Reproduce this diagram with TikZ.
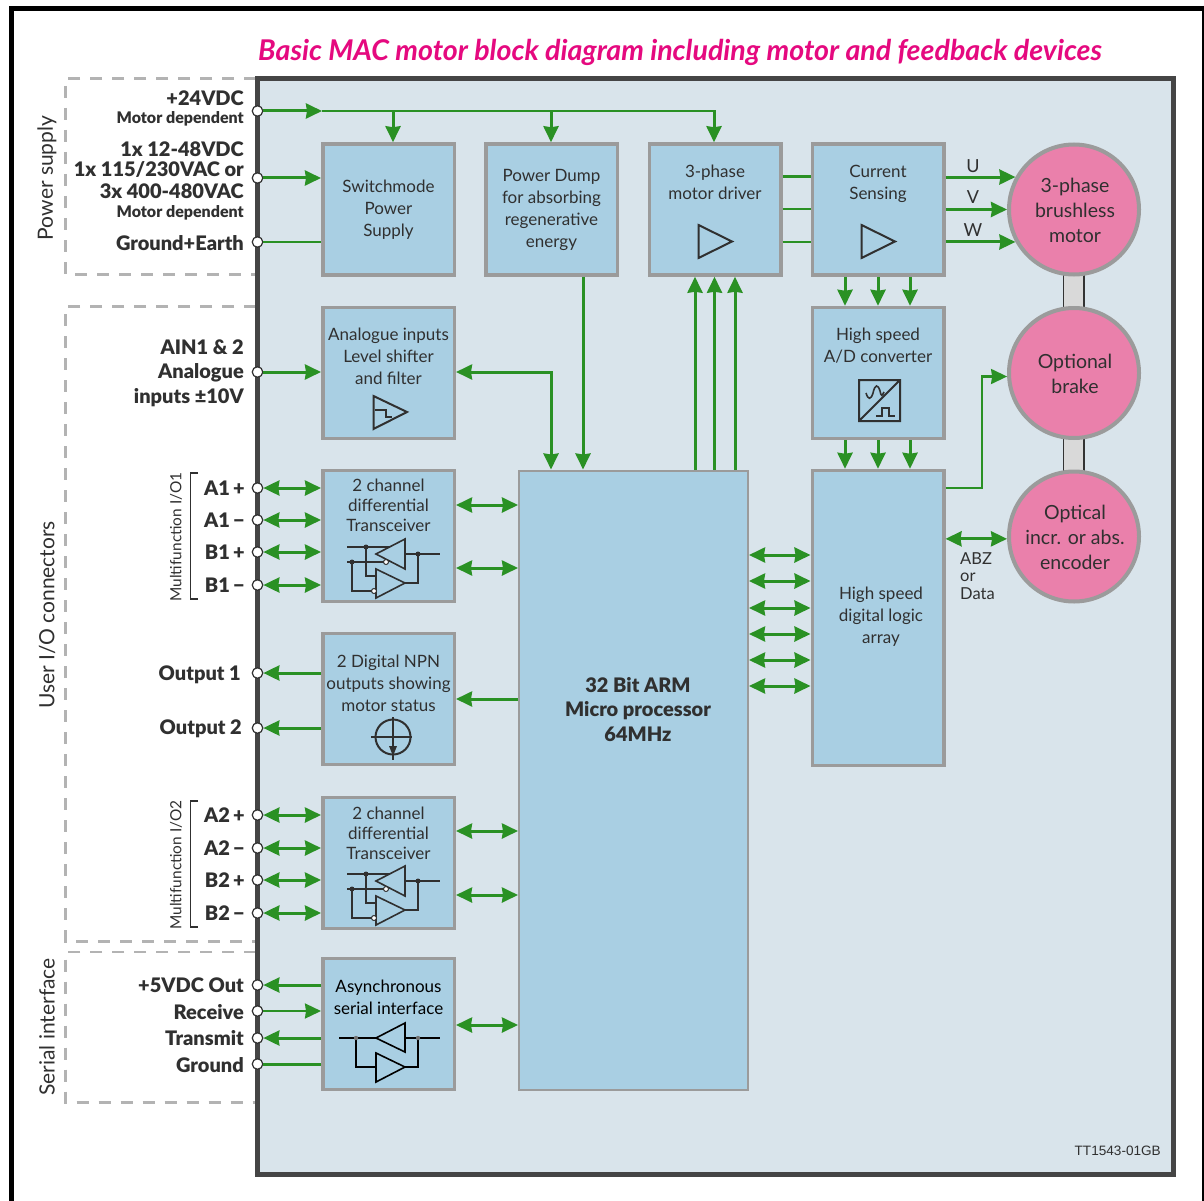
\documentclass[tikz,border=0pt]{standalone}
\usepackage{fontspec}
\setmainfont{Lato}
\newfontfamily\heavy{Lato Black}
\usetikzlibrary{arrows.meta}
\definecolor{gr}{HTML}{2A9124}
\definecolor{panelfill}{HTML}{D9E4EB}
\definecolor{panelline}{HTML}{454545}
\definecolor{boxfill}{HTML}{A9CFE3}
\definecolor{boxline}{HTML}{9B9B9B}
\definecolor{pinkc}{HTML}{EA80AB}
\definecolor{dashc}{HTML}{B3B3B3}
\definecolor{txt}{HTML}{303030}
\definecolor{titlec}{HTML}{E5097F}
\newcommand\roomfor[1]{\\\rule{0pt}{#1pt}}
\newcommand\dn{\rule{0pt}{17pt}\hspace*{2pt}}
\tikzset{
  x=1pt,y=-1pt,
  gbox/.style={draw=boxline,fill=boxfill,line width=3.5pt,inner sep=0pt,
     minimum width=131.5pt,minimum height=131pt,align=center,text=txt,
     font=\fontsize{17}{22}\selectfont},
  tbox/.style={gbox,font=\fontsize{17}{20}\selectfont},
  tallbox/.style={gbox,minimum height=#1},
  cpubox/.style={draw=boxline,fill=boxfill,line width=2pt,inner sep=0pt,align=center,text=txt,
     minimum width=229pt,minimum height=619pt,font=\heavy\fontsize{20}{24.5}\selectfont},
  rotor/.style={circle,draw=boxline,fill=pinkc,line width=4pt,inner sep=0pt,minimum size=130pt,
     align=center,text=txt,font=\fontsize{19.5}{25}\selectfont},
  term/.style={circle,draw=txt,fill=white,line width=1.2pt,inner sep=0pt,minimum size=10.5pt},
  pinl/.style={anchor=east,inner sep=0pt,text=txt,font=\heavy\fontsize{20}{24}\selectfont},
  pins/.style={anchor=east,inner sep=0pt,text=txt,font=\heavy\fontsize{16}{18}\selectfont},
  side/.style={rotate=90,inner sep=0pt,text=txt,font=\fontsize{21}{24}\selectfont},
  sides/.style={rotate=90,inner sep=0pt,text=txt,font=\fontsize{15.4}{18}\selectfont},
  wire/.style={draw=gr,line width=3pt},
  thinw/.style={draw=gr,line width=2.2pt},
  to1/.style={-{Stealth[length=16pt,width=15pt,inset=1pt]}},
  to2/.style={{Stealth[length=16pt,width=15pt,inset=1pt]}-{Stealth[length=16pt,width=15pt,inset=1pt]}},
  grp/.style={draw=dashc,line width=2.8pt,dash pattern=on 12pt off 10pt},
  icon/.style={draw=txt,line width=2pt,line join=miter},
  iconf/.style={draw=txt,line width=1.6pt},
  dotk/.style={circle,fill=txt,inner sep=0pt,minimum size=5pt},
  bub/.style={circle,draw=txt,fill=white,line width=1pt,inner sep=0pt,minimum size=5pt}
}
\newcommand\xcvricon[1]{%
\begin{scope}[shift={(0,#1)}]
  \draw[iconf] (347,547) -- (390,547);
  \draw[iconf] (347,562) -- (386,562);
  \draw[iconf] (405,554) -- (440,554);
  \draw[iconf] (405,539) -- (405,569) -- (376,554) -- cycle;
  \draw[iconf] (376,569) -- (376,598) -- (405,583) -- cycle;
  \draw[iconf] (418,554) -- (418,583) -- (405,583);
  \draw[iconf] (366,547) -- (366,576) -- (376,576);
  \draw[iconf] (352,562) -- (352,591) -- (372,591);
  \node[dotk] at (366,547) {};
  \node[dotk] at (352,562) {};
  \node[dotk] at (418,554) {};
  \node[bub] at (386,562) {};
  \node[bub] at (374,591) {};
\end{scope}}
\begin{document}
\begin{tikzpicture}
\useasboundingbox (0,0) rectangle (1204,1201);
\fill[white] (0,0) rectangle (1204,1201);
% outer frame
\draw[black,line width=5pt] (11.5,1201) -- (11.5,8.5) -- (1203,8.5);
\draw[black,line width=2pt] (1203.2,6) -- (1203.2,1201);
% dashed groups
\draw[grp] (256,78.5) -- (65.5,78.5) -- (65.5,274.5) -- (256,274.5);
\draw[grp] (256,306.5) -- (65.5,306.5) -- (65.5,941.5) -- (256,941.5);
\draw[grp] (256,952) -- (65.5,952) -- (65.5,1102.5) -- (256,1102.5);
% panel
\draw[draw=panelline,fill=panelfill,line width=5pt] (257.5,78.5) rectangle (1173,1174.3);
% title
\node[anchor=west,inner sep=0pt,text=titlec,font=\bfseries\itshape\fontsize{28.6}{32}\selectfont] (title) at (258,52.5) {Basic MAC motor block diagram including motor and feedback devices};
% boxes
\node[gbox] (sw) at (388.5,209.5) {Switchmode\\Power\\Supply};
\node[gbox] (dump) at (551.5,209.5) {Power Dump\\for absorbing\\regenerative\\energy};
\node[gbox] (drv) at (715,209.5) {3-phase\\motor driver\roomfor{54}};
\node[gbox] (cs) at (878,209.5) {Current\\Sensing\roomfor{50}};
\node[gbox] (ain) at (388.5,373) {Analogue inputs\\Level shifter\\and filter\roomfor{32}};
\node[gbox] (adc) at (878,373) {High speed\\A/D converter\roomfor{54}};
\node[tbox] (tr1) at (388.5,536) {2 channel\\differential\\Transceiver\roomfor{60}};
\node[gbox] (npn) at (388.5,699) {2 Digital NPN\\outputs showing\\motor status\roomfor{30}};
\node[tbox] (tr2) at (388.5,863) {2 channel\\differential\\Transceiver\roomfor{58}};
\node[gbox] (ser) at (388.5,1024) {\color{black}Asynchronous\\\color{black}serial interface\roomfor{52}};
\node[tallbox=295pt] (logic) at (878,618) {\hspace*{6pt}High speed\\\hspace*{6pt}digital logic\\\hspace*{6pt}array\rule[-5pt]{0pt}{5pt}};
\node[cpubox] (cpu) at (633.5,780) {\hspace*{9pt}32 Bit ARM\\\hspace*{9pt}Micro processor\\\hspace*{9pt}64MHz\roomfor{140}};
% shafts
\fill[fill=black!15] (1063.5,250) rectangle (1084,500);
\draw[black!80,line width=1.6pt] (1063.5,250) -- (1063.5,500) (1084,250) -- (1084,500);
% rotors
\node[rotor] (mot) at (1074,209.5) {\dn 3-phase\\\hspace*{2pt}brushless\\\hspace*{2pt}motor};
\node[rotor] (brk) at (1074,373) {\dn Optional\\\hspace*{2pt}brake};
\node[rotor] (enc) at (1074,536.5) {\dn Optical\\\hspace*{2pt}incr. or abs.\\\hspace*{2pt}encoder};
% terminals
\foreach \n/\yy in {a/111,b/178,c/242,d/372,e/488,f/520,g/552,h/585,i/673,j/728,k/815,l/848,m/880,n/913,o/985,p/1011,q/1038,r/1064}
  \node[term] (t\n) at (257.5,\yy) {};
% left labels
\node[pinl] (l1) at (244,98) {+24VDC};
\node[pins] (l2) at (244,118.5) {Motor dependent};
\node[pinl] (l3) at (244,149) {1x 12-48VDC};
\node[pinl] (l4) at (244,170) {1x 115/230VAC or};
\node[pinl] (l5) at (244,191) {3x 400-480VAC};
\node[pins] (l6) at (244,212.5) {Motor dependent};
\node[pinl] (l7) at (244,243.5) {Ground+Earth};
\node[pinl] (l8) at (244,347.5) {AIN1 \& 2};
\node[pinl] (l9) at (244,373) {Analogue};
\node[pinl] (l10) at (244,398) {inputs ±10V};
\node[pinl] (l11) at (245,488) {A1\,+};
\node[pinl] (l12) at (245,520) {A1\,−};
\node[pinl] (l13) at (245,552) {B1\,+};
\node[pinl] (l14) at (245,585) {B1\,−};
\node[pinl] (l15) at (241,674.5) {Output 1};
\node[pinl] (l16) at (242,728.5) {Output 2};
\node[pinl] (l17) at (245,815) {A2\,+};
\node[pinl] (l18) at (245,848) {A2\,−};
\node[pinl] (l19) at (245,880) {B2\,+};
\node[pinl] (l20) at (245,913) {B2\,−};
\node[pinl] (l21) at (244,985) {+5VDC Out};
\node[pinl] (l22) at (244,1012) {Receive};
\node[pinl] (l23) at (244,1038) {Transmit};
\node[pinl] (l24) at (244,1065) {Ground};
% side labels
\node[side] (s1) at (47,178) {Power supply};
\node[side] (s2) at (47,615) {User I/O connectors};
\node[side] (s3) at (47,1027) {Serial interface};
\node[sides] (s4) at (176,537) {Multifunction I/O1};
\node[sides] (s5) at (176,865) {Multifunction I/O2};
\draw[draw=txt,line width=1.6pt] (198,473) -- (190.5,473) -- (190.5,599) -- (198,599);
\draw[draw=txt,line width=1.6pt] (198,801) -- (190.5,801) -- (190.5,927) -- (198,927);
% bus
\coordinate (bus0) at (322,111);
\coordinate (bus1) at (716,111);
\coordinate (d1) at (393,111);
\coordinate (d2) at (551,111);
\coordinate (d3) at (714,111);
\draw[wire,to1] (ta) -- (bus0);
\draw[thinw] (bus0) -- (bus1);
\draw[wire,to1] (d1) -- (d1 |- sw.north);
\draw[wire,to1] (d2) -- (d2 |- dump.north);
\draw[wire,to1] (d3) -- (d3 |- drv.north);
% inputs
\draw[wire,to1] (tb) -- (tb -| sw.west);
\draw[thinw] (tc) -- (tc -| sw.west);
\draw[wire,to1] (td) -- (td -| ain.west);
\foreach \t in {e,f,g,h} \draw[wire,to2] (t\t) -- (t\t -| tr1.west);
\foreach \t in {k,l,m,n} \draw[wire,to2] (t\t) -- (t\t -| tr2.west);
\foreach \t in {i,j} \draw[wire,to1] (t\t -| npn.west) -- (t\t);
\draw[wire,to1] (to -| ser.west) -- (to);
\draw[thinw,to1] (tp) -- (tp -| ser.west);
\draw[wire,to1] (tq -| ser.west) -- (tq);
\draw[wire] (tr) -- (tr -| ser.west);
% to CPU
\coordinate (p1) at (583,300);
\draw[wire,to1] (p1 |- dump.south) -- (p1 |- cpu.north);
\coordinate (p2) at (551,372);
\draw[wire,to2] (ain.east |- p2) -- (p2) -- (p2 |- cpu.north);
\foreach \yy in {505,568} {\coordinate (q) at (480,\yy); \draw[wire,to2] (tr1.east |- q) -- (cpu.west |- q);}
\foreach \yy in {831,895} {\coordinate (q) at (480,\yy); \draw[wire,to2] (tr2.east |- q) -- (cpu.west |- q);}
\coordinate (q) at (480,699); \draw[wire,to1] (cpu.west |- q) -- (npn.east |- q);
\coordinate (q) at (480,1025); \draw[wire,to2] (ser.east |- q) -- (cpu.west |- q);
% CPU to driver
\foreach \xx in {695,714.5,735} {\coordinate (q) at (\xx,400); \draw[wire,to1] (q |- cpu.north) -- (q |- drv.south);}
% driver to sensing
\foreach \yy in {176.5,209,242} {\coordinate (q) at (797,\yy); \draw[thinw] (drv.east |- q) -- (cs.west |- q);}
% sensing to motor
\draw[wire,to1] (cs.east |- mot.151) -- (mot.151);
\draw[wire,to1] (cs.east |- mot.west) -- (mot.west);
\draw[wire,to1] (cs.east |- mot.209) -- (mot.209);
\node[inner sep=0pt,text=txt,font=\fontsize{18}{20}\selectfont] (lu) at (973,166) {U};
\node[inner sep=0pt,text=txt,font=\fontsize{18}{20}\selectfont] (lv) at (973,197) {V};
\node[inner sep=0pt,text=txt,font=\fontsize{18}{20}\selectfont] (lw) at (973,230) {W};
% sensing / ADC / logic
\foreach \xx in {845,878,910} {
  \coordinate (q) at (\xx,290);
  \draw[wire,to1] (q |- cs.south) -- (q |- adc.north);
  \draw[wire,to1] (q |- adc.south) -- (q |- logic.north);
}
% logic to brake / encoder / cpu
\coordinate (b1) at (982,488);
\draw[thinw,to1] (logic.east |- b1) -- (b1) -- (b1 |- brk.183) -- (brk.183);
\draw[wire,to2] (logic.east |- enc.182) -- (enc.182);
\foreach \yy in {555,581,608,634,660,686} {\coordinate (q) at (780,\yy); \draw[wire,to2] (cpu.east |- q) -- (logic.west |- q);}
\node[anchor=north west,inner sep=0pt,align=left,text=txt,font=\fontsize{16.5}{17.5}\selectfont] (abz) at (960,552) {ABZ\\or\\Data};
\node[inner sep=0pt,text=txt,font=\fontsize{13.6}{15}\selectfont,anchor=east] (tt) at (1161,1151) {\setmainfont{Liberation Sans}TT1543-01GB};
% icons
\draw[icon] (698.5,225) -- (698.5,258) -- (732,241.5) -- cycle;
\draw[icon] (861.5,225) -- (861.5,258) -- (895,241.5) -- cycle;
\draw[icon] (373.5,396) -- (373.5,429) -- (407,412) -- cycle;
\draw[iconf] (375,410) -- (386,410) -- (386,417) -- (392,417);
\draw[icon] (859,380) rectangle (900,421) (859,421) -- (900,380);
\draw[iconf] (866,393) .. controls (868,400) and (871,400) .. (873,393) .. controls (875,384) and (878,384) .. (880,391) .. controls (881,396) and (882,397) .. (884,392);
\draw[iconf] (876,416) -- (882,416) -- (882,408) -- (889,408) -- (889,416) -- (895,416);
\draw[icon] (393,737) circle (17.5);
\draw[iconf] (371,737) -- (412,737) (393,717) -- (393,760);
\fill[txt] (389,746) -- (397,746) -- (393,756) -- cycle;
\xcvricon{0}
\xcvricon{327}
% async icon
\draw[iconf,black] (339,1038) -- (376,1038) (405,1038) -- (440,1038);
\draw[iconf,black] (405,1023) -- (405,1052) -- (376,1038) -- cycle;
\draw[iconf,black] (376,1053) -- (376,1082) -- (405,1067) -- cycle;
\draw[iconf,black] (356,1038) -- (356,1067) -- (376,1067);
\draw[iconf,black] (405,1067) -- (418,1067) -- (418,1038);
\fill[black!55] (356,1038) circle (2.2) (418,1038) circle (2.2);
\end{tikzpicture}
\end{document}
